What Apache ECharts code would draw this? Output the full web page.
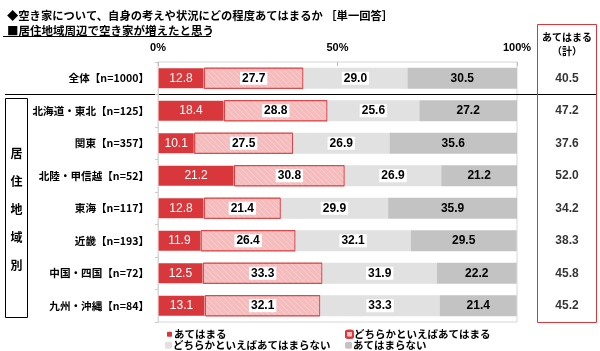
<!DOCTYPE html>
<html>
<head>
<meta charset="utf-8">
<script src="https://cdn.jsdelivr.net/npm/echarts@6/dist/echarts.min.js"></script>
<style>
    html, body { margin: 0; padding: 0; background: #fff; }
    #main { width: 600px; height: 351px; }
</style>
</head>
<body>
<div id="main"></div>
<script>
// カテゴリ（上から順）
let categories = ['全体【n=1000】', '北海道・東北【n=125】', '関東【n=357】', '北陸・甲信越【n=52】',
    '東海【n=117】', '近畿【n=193】', '中国・四国【n=72】', '九州・沖縄【n=84】'];

// 各回答の割合（%）
let atehamaru = [12.8, 18.4, 10.1, 21.2, 12.8, 11.9, 12.5, 13.1];
let dochiraAtehamaru = [27.7, 28.8, 27.5, 30.8, 21.4, 26.4, 33.3, 32.1];
let dochiraAtehamaranai = [29.0, 25.6, 26.9, 26.9, 29.9, 32.1, 31.9, 33.3];
let atehamaranai = [30.5, 27.2, 35.6, 21.2, 35.9, 29.5, 22.2, 21.4];

// あてはまる（計）
let totals = ['40.5', '47.2', '37.6', '52.0', '34.2', '38.3', '45.8', '45.2'];

// 軸の目盛
let xTicks = [0, 50, 100];

let seriesNames = ['あてはまる', 'どちらかといえばあてはまる', 'どちらかといえばあてはまらない', 'あてはまらない'];

let numFont = '"Liberation Sans", "Noto Sans CJK JP", sans-serif';
let jpFont = '"Noto Sans CJK JP", sans-serif';

let myChart = echarts.init(document.getElementById('main'));

// 値ラベル（小数1桁）
function valueLabel(color, withBox) {
    let l = {
        show: true,
        position: 'inside',
        color: color,
        fontSize: 12,
        fontWeight: color === '#fff' ? 'normal' : 'bold',
        fontFamily: numFont,
        formatter: function (p) { return p.value.toFixed(1); }
    };
    if (withBox) {
        // 白い背景つき
        l.backgroundColor = '#fff';
        l.padding = [1, 2, 0, 2];
    }
    return l;
}

// 凡例は1項目ずつ配置（2列×2行）
let legendPos = [[165, 329], [345, 329], [165, 340], [345, 340]];
let legends = [];
for (let i = 0; i < seriesNames.length; i++) {
    legends.push({
        data: [seriesNames[i]],
        left: legendPos[i][0], top: legendPos[i][1],
        itemWidth: 7, itemHeight: 7, itemGap: 0, padding: 0,
        textStyle: { fontSize: 10.5, fontWeight: 'bold', color: '#000', fontFamily: jpFont, padding: [0, 0, 0, -4] }
    });
}

let option = {
    animation: false,
    title: [{
        text: '◆空き家について、自身の考えや状況にどの程度あてはまるか ［単一回答］',
        left: 2, top: 5,
        textStyle: { fontSize: 11.3, fontWeight: 'bold', color: '#000', fontFamily: jpFont }
    }, {
        text: '■居住地域周辺で空き家が増えたと思う',
        left: 2, top: 20,
        textStyle: { fontSize: 11.5, fontWeight: 'bold', color: '#000', fontFamily: jpFont }
    }],
    legend: legends,
    grid: [{
        left: 158, right: 83, top: 62, bottom: 29,
        show: true, borderColor: '#d6d6d6', borderWidth: 1
    }, {
        left: 537, right: 3, top: 62, bottom: 29
    }],
    xAxis: [{
        gridIndex: 0,
        type: 'value',
        position: 'top',
        min: xTicks[0], max: xTicks[2], interval: xTicks[1] - xTicks[0],
        axisLine: { show: false },
        axisTick: { show: true, inside: true, length: 4, lineStyle: { color: '#bbb' } },
        splitLine: { show: false },
        axisLabel: {
            margin: 9, color: '#000', fontSize: 11, fontWeight: 'bold', fontFamily: numFont,
            formatter: '{value}%'
        }
    }, {
        gridIndex: 1, type: 'value', min: 0, max: 1, show: false
    }],
    yAxis: [{
        gridIndex: 0,
        type: 'category',
        inverse: true,
        data: categories,
        axisLine: { show: true, lineStyle: { color: '#d6d6d6' } },
        axisTick: { show: true, length: 3, lineStyle: { color: '#ccc' } },
        axisLabel: { margin: 9, color: '#000', fontSize: 10.6, fontWeight: 'bold', fontFamily: jpFont }
    }, {
        gridIndex: 1, type: 'category', inverse: true, data: categories, show: false
    }],
    series: [{
        name: seriesNames[0],
        type: 'bar', stack: 'all', barWidth: 21,
        data: atehamaru,
        itemStyle: { color: '#d8383b', borderColor: '#fff', borderWidth: 0.5 },
        label: valueLabel('#fff', false)
    }, {
        name: seriesNames[1],
        type: 'bar', stack: 'all', barWidth: 21,
        data: dochiraAtehamaru,
        itemStyle: {
            color: '#f5bcbd', borderColor: '#d8383b', borderWidth: 0.8,
            decal: {
                symbol: 'rect', symbolSize: 1, color: 'rgba(255,255,255,0.2)',
                dashArrayX: [1, 0], dashArrayY: [1, 3], rotation: Math.PI / 4
            }
        },
        label: valueLabel('#000', true)
    }, {
        name: seriesNames[2],
        type: 'bar', stack: 'all', barWidth: 21,
        data: dochiraAtehamaranai,
        itemStyle: { color: '#e1e1e1' },
        label: valueLabel('#000', true)
    }, {
        name: seriesNames[3],
        type: 'bar', stack: 'all', barWidth: 21,
        data: atehamaranai,
        itemStyle: { color: '#c3c3c3' },
        label: valueLabel('#000', false)
    }, {
        // 右側の「あてはまる（計）」欄
        type: 'scatter',
        xAxisIndex: 1, yAxisIndex: 1,
        symbolSize: 0,
        data: totals.map(function (t, i) { return [0.5, i]; }),
        label: {
            show: true, position: 'inside', color: '#000', fontSize: 12, fontWeight: 'bold', fontFamily: numFont,
            formatter: function (p) { return totals[p.dataIndex]; }
        },
        silent: true
    }],
    graphic: [
        // 見出しの下線
        { type: 'line', shape: { x1: 3, y1: 36.5, x2: 211, y2: 36.5 }, style: { stroke: '#000', lineWidth: 1 } },
        // 全体と地域別の区切り線
        { type: 'line', shape: { x1: 5, y1: 94.5, x2: 597, y2: 94.5 }, style: { stroke: '#000', lineWidth: 1 } },
        // 居住地域別の枠
        { type: 'rect', shape: { x: 5.5, y: 98.5, width: 22, height: 219 }, style: { fill: 'none', stroke: '#000', lineWidth: 1 } },
        {
            type: 'text', x: 16.5, y: 209,
            style: {
                text: '居\n住\n地\n域\n別', fontSize: 12, fontWeight: 'bold', lineHeight: 28,
                fontFamily: jpFont, fill: '#000', align: 'center', verticalAlign: 'middle'
            }
        },
        // 右側の赤枠
        { type: 'rect', shape: { x: 537.5, y: 24.5, width: 59, height: 298 }, style: { fill: 'none', stroke: '#d8383b', lineWidth: 1 } },
        {
            type: 'text', x: 567, y: 44,
            style: {
                text: 'あてはまる\n（計）', fontSize: 10, fontWeight: 'bold', lineHeight: 14,
                fontFamily: jpFont, fill: '#000', align: 'center', verticalAlign: 'middle'
            }
        }
    ]
};

myChart.setOption(option);
</script>
</body>
</html>
